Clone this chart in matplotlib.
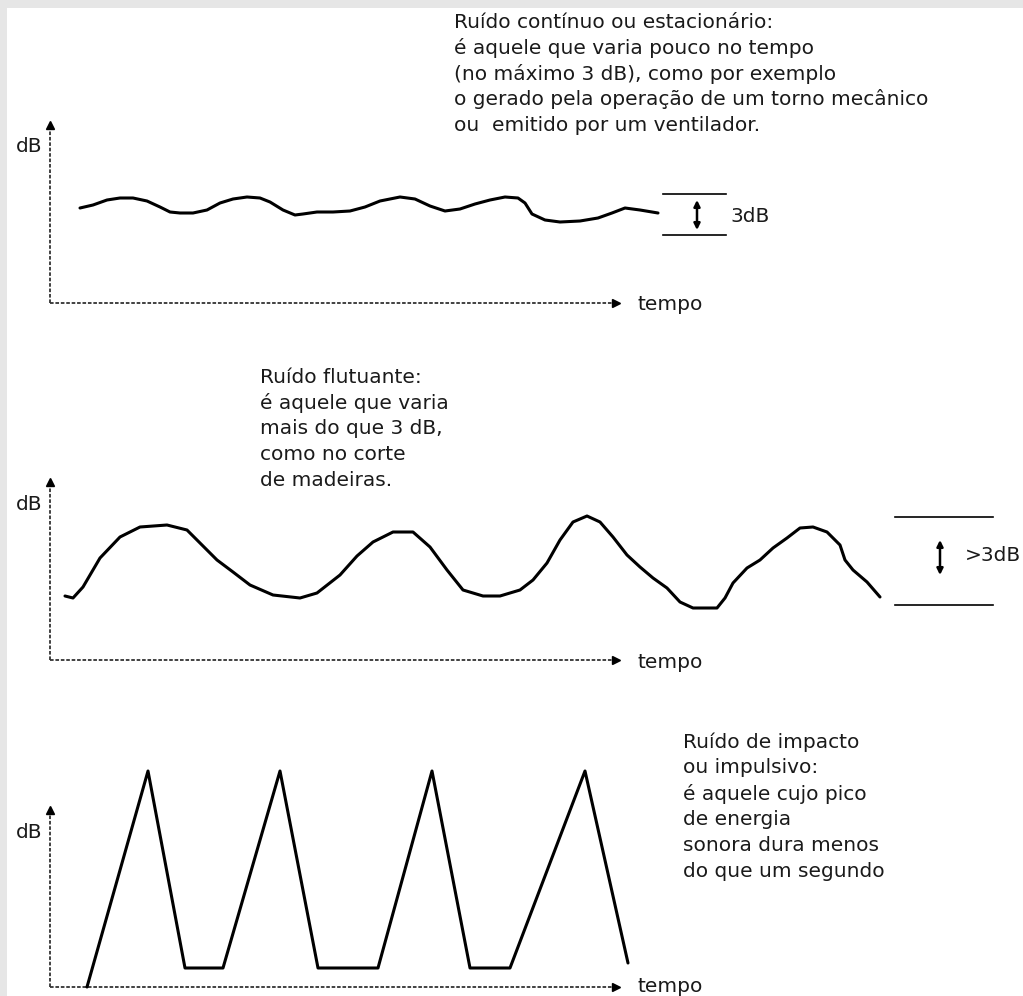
import matplotlib.pyplot as plt
from matplotlib.patches import Rectangle

plt.rcParams["font.family"] = ["DejaVu Sans"]

# --- data (time, level) ---
cont_t = [30, 43, 57, 70, 83, 97, 110, 120, 130, 143, 157, 170, 183, 197, 210, 220,
          233, 245, 253, 267, 283, 300, 315, 330, 350, 365, 380, 395, 410, 425, 440,
          455, 468, 475, 482, 495, 510, 530, 548, 562, 575, 590, 608]
cont_db = [95, 98, 103, 105, 105, 102, 96, 91, 90, 90, 93, 100, 104, 106, 105, 101,
           93, 88, 89, 91, 91, 92, 96, 102, 106, 104, 97, 92, 94, 99, 103,
           106, 105, 100, 89, 83, 81, 82, 85, 90, 95, 93, 90]

flut_t = [15, 23, 33, 50, 70, 90, 117, 137, 150, 167, 183, 200, 223, 250, 267, 290,
          307, 323, 343, 363, 380, 397, 413, 433, 450, 470, 483, 497, 510, 523, 537,
          550, 563, 577, 590, 603, 617, 630, 643, 667, 675, 683, 697, 710, 723, 737,
          750, 763, 777, 790, 795, 803, 817, 830]
flut_db = [64, 62, 73, 102, 123, 133, 135, 130, 117, 100, 88, 75, 65, 62, 67, 85,
           104, 118, 128, 128, 113, 90, 70, 64, 64, 70, 80, 97, 120, 138, 144,
           138, 123, 105, 93, 82, 72, 58, 52, 52, 62, 77, 92, 100, 112, 122,
           132, 133, 128, 115, 100, 90, 78, 63]

imp_t = [37, 98, 135, 173, 230, 268, 328, 382, 420, 460, 535, 578]
imp_db = [0, 216, 19, 19, 216, 19, 19, 216, 19, 19, 216, 24]

text_cont = ["Ruído contínuo ou estacionário:",
             "é aquele que varia pouco no tempo",
             "(no máximo 3 dB), como por exemplo",
             "o gerado pela operação de um torno mecânico",
             "ou  emitido por um ventilador."]
text_flut = ["Ruído flutuante:",
             "é aquele que varia",
             "mais do que 3 dB,",
             "como no corte",
             "de madeiras."]
text_imp = ["Ruído de impacto",
            "ou impulsivo:",
            "é aquele cujo pico",
            "de energia",
            "sonora dura menos",
            "do que um segundo"]

W, H = 1023, 996
fig = plt.figure(figsize=(W / 100, H / 100), dpi=100)
fig.patch.set_facecolor("#e6e6e6")
fig.patches.append(Rectangle((7 / W, 0), 1, 1 - 8 / H, transform=fig.transFigure,
                             facecolor="white", edgecolor="none", zorder=-5))

AX_COL = "#333333"
TXT_COL = "#1a1a1a"
FS = 14.5


def make_panel(baseline, top, tempo_y=-2):
    ax = fig.add_axes([50 / W, (H - baseline) / H, (W - 50) / W, 240 / H])
    ax.set_xlim(0, W - 50)
    ax.set_ylim(0, 240)
    ax.axis("off")
    ax.patch.set_alpha(0)
    # axes drawn as dotted lines with arrow heads
    ax.plot([0, 0], [0, top], color=AX_COL, lw=1.3, ls=(0, (2, 1)), clip_on=False)
    ax.plot([0, 566], [0, 0], color=AX_COL, lw=1.3, ls=(0, (2, 1)), clip_on=False)
    ax.plot([0], [top], marker="^", ms=6, color="black", clip_on=False)
    ax.plot([566], [0], marker=">", ms=6, color="black", clip_on=False)
    ax.text(-8, top - 22, "dB", ha="right", va="center", fontsize=FS, color=TXT_COL)
    ax.text(587, tempo_y, "tempo", ha="left", va="center", fontsize=FS, color=TXT_COL)
    return ax


def text_block(ax, x, y0, lines):
    for i, s in enumerate(lines):
        ax.text(x, y0 - i * 25.8, s, ha="left", va="center", fontsize=FS, color=TXT_COL)


def level_marker(ax, x0, x1, lo, hi, ax_x, a0, a1, label, lx, ly):
    ax.plot([x0, x1], [hi, hi], color="black", lw=1.2, clip_on=False)
    ax.plot([x0, x1], [lo, lo], color="black", lw=1.2, clip_on=False)
    ax.annotate("", xy=(ax_x, a1), xytext=(ax_x, a0),
                arrowprops=dict(arrowstyle="<|-|>", color="black", lw=1.8,
                                mutation_scale=9, shrinkA=0, shrinkB=0))
    ax.text(lx, ly, label, ha="left", va="center", fontsize=FS, color=TXT_COL)


curve_kw = dict(color="black", lw=2.2, clip_on=False,
                solid_joinstyle="round", solid_capstyle="round")

# Continuous noise
ax1 = make_panel(303, 178)
ax1.plot(cont_t, cont_db, **curve_kw)
level_marker(ax1, 613, 676, 68, 109, 647, 73, 103, "3dB", 680, 86)
text_block(ax1, 404, 281, text_cont)

# Fluctuating noise
ax2 = make_panel(660, 178)
ax2.plot(flut_t, flut_db, **curve_kw)
level_marker(ax2, 845, 943, 55, 143, 890, 85, 120, ">3dB", 915, 105)
text_block(ax2, 210, 283, text_flut)

# Impulsive noise
ax3 = make_panel(987, 177, tempo_y=1)
ax3.plot(imp_t, imp_db, **curve_kw)
text_block(ax3, 633, 245, text_imp)

fig.savefig("out.png", dpi=100, facecolor=fig.get_facecolor())
